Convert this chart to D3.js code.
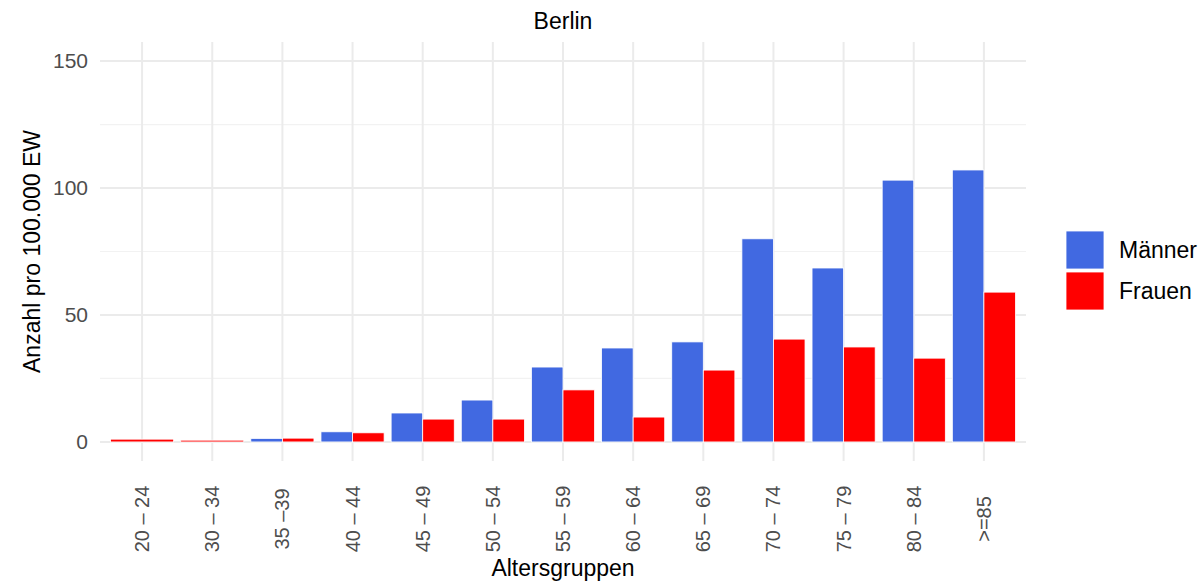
<!DOCTYPE html>
<html lang="de">

<head>
    <meta charset="utf-8">
    <script src='https://d3js.org/d3.v7.min.js'></script>
    <style>
        body { margin: 0; background: #fff; }
        text { font-family: "Liberation Sans", Arial, Helvetica, sans-serif; }
    </style>
</head>

<body>
</body>

<script>

    // Altersgruppen (x categories)
    const groups = ["20 – 24", "30 – 34", "35 –39", "40 – 44", "45 – 49", "50 – 54", "55 – 59",
                    "60 – 64", "65 – 69", "70 – 74", "75 – 79", "80 – 84", ">=85"];
    // Anzahl pro 100.000 EW, null = no bar
    const maenner = [null, null, 1.4, 4.0, 11.4, 16.5, 29.5, 37.0, 39.4, 80.0, 68.5, 103.1, 107.1];
    const frauen  = [1.1, 0.7, 1.5, 3.6, 9.0, 9.0, 20.5, 9.8, 28.3, 40.5, 37.4, 33.0, 59.0];
    const seriesNames = ["Männer", "Frauen"];
    const seriesColors = ["#4169E1", "#FF0000"];
    const yTicks = [0, 50, 100, 150];
    const yMinor = [25, 75, 125];

    const width = 1204;
    const height = 581;
    const panel = { left: 100, right: 1026, top: 42, bottom: 461 };

    const svg = d3.select("body")
                    .append("svg")
                    .attr("width", width)
                    .attr("height", height);

    // ggplot-like discrete expansion: 0.6 step on each side
    const step = (panel.right - panel.left) / (groups.length - 1 + 1.2);
    const x = d3.scalePoint()
                .domain(groups)
                .range([panel.left + 0.6 * step, panel.right - 0.6 * step]);

    const y = d3.scaleLinear()
                .domain([-7.5, 157.5])
                .range([panel.bottom, panel.top]);

    // grid
    const grid = svg.append("g");
    grid.selectAll("line.minor")
        .data(yMinor)
        .enter()
        .append("line")
        .attr("x1", panel.left).attr("x2", panel.right)
        .attr("y1", d => y(d)).attr("y2", d => y(d))
        .attr("stroke", "#f2f2f2")
        .attr("stroke-width", 1.2);
    grid.selectAll("line.major")
        .data(yTicks)
        .enter()
        .append("line")
        .attr("x1", panel.left).attr("x2", panel.right)
        .attr("y1", d => y(d)).attr("y2", d => y(d))
        .attr("stroke", "#ebebeb")
        .attr("stroke-width", 2);
    grid.selectAll("line.vert")
        .data(groups)
        .enter()
        .append("line")
        .attr("x1", d => x(d)).attr("x2", d => x(d))
        .attr("y1", panel.top).attr("y2", panel.bottom)
        .attr("stroke", "#ebebeb")
        .attr("stroke-width", 2);

    // bars: dodge total width 0.9 of a step, missing series gives full width to the other
    const dodge = 0.9 * step;
    groups.forEach(function(g, i) {
        const vals = [maenner[i], frauen[i]];
        const present = seriesNames.map((s, k) => k).filter(k => vals[k] !== null);
        const sub = d3.scaleBand()
                      .domain(present)
                      .range([x(g) - dodge / 2, x(g) + dodge / 2]);
        present.forEach(function(k) {
            svg.append("rect")
                .attr("x", sub(k))
                .attr("width", sub.bandwidth())
                .attr("y", y(vals[k]))
                .attr("height", y(0) - y(vals[k]))
                .attr("fill", seriesColors[k])
                .attr("stroke", "#fff")
                .attr("stroke-width", 0.8);
        });
    });

    // y axis labels
    svg.selectAll("text.ytick")
        .data(yTicks)
        .enter()
        .append("text")
        .attr("x", 88)
        .attr("y", d => y(d))
        .attr("dy", "0.35em")
        .attr("text-anchor", "end")
        .attr("fill", "#4d4d4d")
        .style("font-size", "21px")
        .text(d => d);

    // x axis labels, rotated
    svg.selectAll("text.xtick")
        .data(groups)
        .enter()
        .append("text")
        .attr("transform", d => "translate(" + x(d) + ",519) rotate(-90)")
        .attr("dy", "0.35em")
        .attr("text-anchor", "middle")
        .attr("fill", "#4d4d4d")
        .style("font-size", "20px")
        .text(d => d);

    // titles
    svg.append("text")
        .attr("x", (panel.left + panel.right) / 2)
        .attr("y", 29)
        .attr("text-anchor", "middle")
        .style("font-size", "23px")
        .text("Berlin");

    svg.append("text")
        .attr("x", (panel.left + panel.right) / 2)
        .attr("y", 576)
        .attr("text-anchor", "middle")
        .style("font-size", "23px")
        .text("Altersgruppen");

    svg.append("text")
        .attr("transform", "translate(40," + ((panel.top + panel.bottom) / 2) + ") rotate(-90)")
        .attr("text-anchor", "middle")
        .style("font-size", "23px")
        .text("Anzahl pro 100.000 EW");

    // legend
    const legend = svg.selectAll("g.legend")
        .data(seriesNames)
        .enter()
        .append("g")
        .attr("transform", (d, i) => "translate(1066," + (231 + i * 41) + ")");
    legend.append("rect")
        .attr("width", 38)
        .attr("height", 38)
        .attr("fill", (d, i) => seriesColors[i])
        .attr("stroke", "#fff")
        .attr("stroke-width", 0.8);
    legend.append("text")
        .attr("x", 53)
        .attr("y", 19)
        .attr("dy", "0.35em")
        .style("font-size", "23px")
        .text(d => d);

</script>

</html>
